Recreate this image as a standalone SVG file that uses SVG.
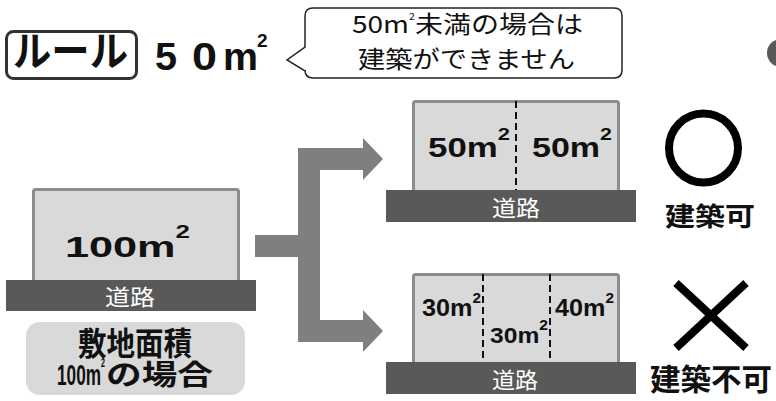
<svg xmlns="http://www.w3.org/2000/svg" width="776" height="401" viewBox="0 0 776 401">
<style>
.lot{fill:#d9d9d9;stroke:#8c8c8c;stroke-width:3}
.road{fill:#595959}
.rt{fill:#ffffff;font-family:"Noto Sans CJK JP",sans-serif;font-size:22px;text-anchor:middle}
.num{fill:#111;font-family:"Liberation Sans","Noto Sans CJK JP",sans-serif;font-weight:bold}
.jp{fill:#111;font-family:"Noto Sans CJK JP",sans-serif}
.b{font-weight:bold}
.dash{stroke:#111;stroke-width:2;stroke-dasharray:7 4}
</style>
<rect width="776" height="401" fill="#ffffff"/>

<g id="rule">
<rect x="6.5" y="31.5" width="130" height="47" rx="7" fill="#fff" stroke="#333" stroke-width="3"/>
<text class="jp b" x="13" y="66" font-size="41" textLength="115" lengthAdjust="spacingAndGlyphs">ルール</text>
<text class="num" y="70" font-size="39"><tspan x="155" textLength="22" lengthAdjust="spacingAndGlyphs">5</tspan><tspan x="192" textLength="25" lengthAdjust="spacingAndGlyphs">0</tspan><tspan x="223" textLength="35" lengthAdjust="spacingAndGlyphs">m</tspan><tspan x="257" y="47" font-size="19">2</tspan></text>
</g>

<g id="callout">
<path d="M313,8 H614 Q622,8 622,16 V70 Q622,78 614,78 H313 Q305,78 305,70 V71 L287,60 L305,47 V16 Q305,8 313,8 Z" fill="#fff" stroke="#222" stroke-width="1.5"/>
<text class="jp" x="352" y="33" font-size="24" textLength="231" lengthAdjust="spacingAndGlyphs">50m<tspan font-size="9" dy="-13">2</tspan><tspan dy="13">未満の場合は</tspan></text>
<text class="jp" x="358" y="68" font-size="24" textLength="217" lengthAdjust="spacingAndGlyphs">建築ができません</text>
</g>

<g id="dot"><circle cx="781" cy="53" r="14" fill="#595959"/></g>

<g id="site100">
<rect class="lot" x="33.5" y="189.5" width="205" height="92" rx="2"/>
<rect class="road" x="6" y="280" width="250" height="31"/>
<text class="rt" x="130" y="305" textLength="50" lengthAdjust="spacingAndGlyphs">道路</text>
<text class="num" x="65" y="257" font-size="30" textLength="125" lengthAdjust="spacingAndGlyphs">100m<tspan font-size="18" dy="-19">2</tspan></text>
</g>

<g id="label">
<rect x="26" y="322" width="219" height="73" rx="14" fill="#d9d9d9"/>
<text class="jp b" x="78" y="355" font-size="32" textLength="114" lengthAdjust="spacingAndGlyphs">敷地面積</text>
<text class="num" x="57" y="385" font-size="29" textLength="48" lengthAdjust="spacingAndGlyphs">100m<tspan font-size="12" dy="-18">2</tspan></text>
<text class="jp b" x="106" y="385" font-size="28" textLength="107" lengthAdjust="spacingAndGlyphs">の場合</text>
</g>

<g id="connectors">
<polygon points="255,235 298,235 298,148 363,148 363,138 383,159 363,180 363,170 320,170 320,320 363,320 363,310 383,331 363,352 363,342 298,342 298,257 255,257" fill="#7f7f7f"/>
</g>

<g id="site50">
<rect class="lot" x="413.5" y="101.5" width="205" height="90" rx="2"/>
<line class="dash" x1="516" y1="101" x2="516" y2="190"/>
<rect class="road" x="386" y="190" width="250" height="32"/>
<text class="rt" x="516" y="216" textLength="48" lengthAdjust="spacingAndGlyphs">道路</text>
<text class="num" x="428" y="157" font-size="27" textLength="82" lengthAdjust="spacingAndGlyphs">50m<tspan font-size="17" dy="-17">2</tspan></text>
<text class="num" x="532" y="157" font-size="27" textLength="80" lengthAdjust="spacingAndGlyphs">50m<tspan font-size="17" dy="-17">2</tspan></text>
</g>

<g id="site30">
<rect class="lot" x="413.5" y="274.5" width="205" height="90" rx="2"/>
<line class="dash" x1="483" y1="274" x2="483" y2="362"/>
<line class="dash" x1="550" y1="274" x2="550" y2="362"/>
<rect class="road" x="386" y="362" width="250" height="32"/>
<text class="rt" x="515" y="388" textLength="46" lengthAdjust="spacingAndGlyphs">道路</text>
<text class="num" x="422" y="316" font-size="23" textLength="59" lengthAdjust="spacingAndGlyphs">30m<tspan font-size="14" dy="-13">2</tspan></text>
<text class="num" x="490" y="343" font-size="22" textLength="58" lengthAdjust="spacingAndGlyphs">30m<tspan font-size="14" dy="-13">2</tspan></text>
<text class="num" x="555" y="316" font-size="23" textLength="59" lengthAdjust="spacingAndGlyphs">40m<tspan font-size="14" dy="-13">2</tspan></text>
</g>

<g id="ok">
<circle cx="703.5" cy="148" r="34.5" fill="none" stroke="#000" stroke-width="8"/>
<text class="jp b" x="665" y="226" font-size="26" textLength="90" lengthAdjust="spacingAndGlyphs">建築可</text>
</g>

<g id="ng">
<line x1="676" y1="283" x2="746" y2="348" stroke="#000" stroke-width="8"/>
<line x1="746" y1="283" x2="676" y2="348" stroke="#000" stroke-width="8"/>
<text class="jp b" x="650" y="390" font-size="30" textLength="122" lengthAdjust="spacingAndGlyphs">建築不可</text>
</g>
</svg>
